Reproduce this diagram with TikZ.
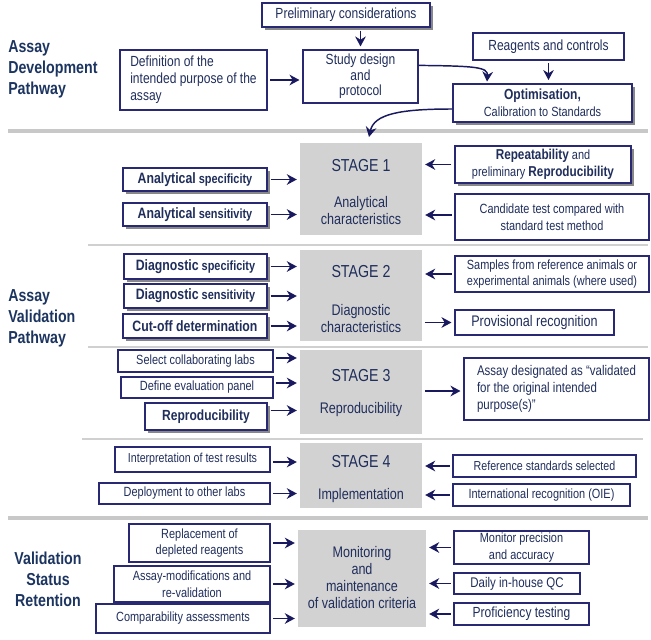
\documentclass[tikz,border=0pt]{standalone}
\usepackage{fontspec}
\setmainfont{Liberation Sans}[FakeStretch=0.82]
\usetikzlibrary{arrows.meta,shadows,calc}
\definecolor{bordercol}{RGB}{40,40,115}
\definecolor{textcol}{RGB}{32,46,92}
\definecolor{titlecol}{RGB}{28,52,96}
\definecolor{arrowcol}{RGB}{25,25,95}
\definecolor{stagegray}{RGB}{210,210,210}
\definecolor{sepgray}{RGB}{200,200,200}
\definecolor{sepgrayl}{RGB}{208,208,208}
\newcommand\szT{\fontsize{13}{15.75}\selectfont}
\newcommand\szL{\fontsize{11}{12.75}\selectfont}
\newcommand\szM{\fontsize{10.5}{12.75}\selectfont}
\newcommand\szS{\fontsize{10}{12.5}\selectfont}
\newcommand\szG{\fontsize{11.5}{12.75}\selectfont}
\newcommand\szH{\fontsize{13}{15}\selectfont}
\newcommand\szB{\fontsize{11.25}{13}\selectfont\bfseries}
\begin{document}
\begin{tikzpicture}[x=0.75pt,y=-0.75pt,
  bw/.style={minimum width=#1*0.75pt},
  bh/.style={minimum height=#1*0.75pt},
  lbox/.style={draw=bordercol, fill=white, text=textcol, align=center, inner sep=1pt, line width=0.9pt, font=\szS},
  hbox/.style={lbox, line width=1.6pt, drop shadow={shadow xshift=2.2pt, shadow yshift=-2.2pt, fill=black!55, opacity=0.85}},
  stagebox/.style={fill=stagegray, draw=none, inner sep=0pt},
  stagetxt/.style={text=textcol, align=center, inner sep=0pt, font=\szG},
  title/.style={text=titlecol, font=\szT\bfseries, inner sep=0pt},
  arr/.style={draw=arrowcol, line width=1.1pt, -{Stealth[length=7.5pt,width=8pt]}, shorten <=2pt, shorten >=2.2pt},
  septhick/.style={draw=sepgray, line width=3.6pt},
  septhin/.style={draw=sepgrayl, line width=1.6pt}
]
\useasboundingbox (0,0) rectangle (651,640);

% separators
\draw[septhick] (8,131) -- (648,131);
\draw[septhin] (88,245) -- (648,245);
\draw[septhin] (88,347) -- (648,347);
\draw[septhin] (82,439) -- (643,439);
\draw[septhick] (8,518) -- (648,518);

% titles
\node[title, align=left, anchor=west] (t1) at (8,69) {Assay\\Development\\Pathway};
\node[title, align=left, anchor=west] (t2) at (8,318) {Assay\\Validation\\Pathway};
\node[title, align=center] (t3) at (48,579) {Validation\\Status\\Retention};

% development pathway
\node[hbox,bw=168,bh=24,font=\szL] (prelim) at (346,15) {Preliminary considerations};
\node[lbox,bw=147,bh=60,align=left,font=\szL] (def) at (193.5,80) {Definition of the\\intended purpose of the\\assay};
\node[lbox,bw=115,bh=53,font=\fontsize{11}{11.7}\selectfont] (study) at (360.5,76.5) {Study design\\and\\protocol};
\node[lbox,bw=151,bh=27,font=\szL] (reag) at (548.5,46.5) {Reagents and controls};
\node[hbox,bw=179,bh=38,font=\szS] (optim) at (542.5,103) {{\fontsize{11}{13}\selectfont\bfseries Optimisation,}\\Calibration to Standards};

\draw[arr] (def.east) -- (def.east -| study.west);
\draw[arr] (prelim.south -| study.north) -- (study.north);
\draw[arr] (reag.south) -- (reag.south |- optim.north);
\coordinate (optTop) at ($(optim.north west)+(35,0)$);
\draw[arr, shorten <=0pt, shorten >=1pt] ($(study.north east)+(0,16)$) .. controls (475,66) and (488,67) .. (optTop);
\coordinate (vTop) at (369,137);
\draw[arr, shorten <=0pt, shorten >=0pt] ($(optim.west)+(0,6)$) .. controls (400,109) and (374,114) .. (vTop);

% stage 1
\node[stagebox,bw=122,bh=92] (s1) at (361,189) {};
\node[stagetxt,font=\szH] (s1a) at (361,166) {STAGE 1};
\node[stagetxt] (s1b) at (361,210.5) {Analytical\\characteristics};
\node[hbox,bw=144,bh=23] (as1) at (195,179.5) {{\szB Analytical} {\bfseries specificity}};
\node[hbox,bw=144,bh=23] (as2) at (195,214.5) {{\szB Analytical} {\bfseries sensitivity}};
\node[hbox,bw=176,bh=37] (rep) at (543,164.5) {{\fontsize{10.75}{12.5}\selectfont\bfseries Repeatability} and\\preliminary {\fontsize{10.75}{12.5}\selectfont\bfseries Reproducibility}};
\node[lbox,bw=194,bh=46] (cand) at (552,217) {Candidate test compared with\\standard test method};
\draw[arr] (as1.east) -- (as1.east -| s1.west);
\draw[arr] (as2.east) -- (as2.east -| s1.west);
\draw[arr] (rep.west) -- (rep.west -| s1.east);
\draw[arr] ($(cand.west)+(0,-2)$) -- ($(cand.west -| s1.east)+(0,-2)$);

% stage 2
\node[stagebox,bw=122,bh=91] (s2) at (361,295.5) {};
\node[stagetxt,font=\szH] (s2a) at (361,272) {STAGE 2};
\node[stagetxt] (s2b) at (361,318.5) {Diagnostic\\characteristics};
\node[hbox,bw=143,bh=25] (ds1) at (195.5,266.5) {{\szB Diagnostic} {\bfseries specificity}};
\node[hbox,bw=143,bh=24] (ds2) at (195.5,296) {{\szB Diagnostic} {\bfseries sensitivity}};
\node[hbox,bw=144,bh=24,font=\szB] (cut) at (195,326) {Cut-off determination};
\node[lbox,bw=194,bh=36] (samp) at (552,274) {Samples from reference animals or\\experimental animals (where used)};
\node[lbox,bw=159,bh=25,font=\fontsize{11.5}{13}\selectfont] (prov) at (534.5,322.5) {Provisional recognition};
\draw[arr] (ds1.east) -- (ds1.east -| s2.west);
\draw[arr] (ds2.east) -- (ds2.east -| s2.west);
\draw[arr] (cut.east) -- (cut.east -| s2.west);
\draw[arr] (samp.west) -- (samp.west -| s2.east);
\draw[arr] (prov.west -| s2.east) -- (prov.west);

% stage 3
\node[stagebox,bw=122,bh=84] (s3) at (361,392) {};
\node[stagetxt,font=\szH] (s3a) at (361,376) {STAGE 3};
\node[stagetxt] (s3b) at (361,410) {Reproducibility};
\node[lbox,bw=155,bh=22] (sel) at (195.5,361) {Select collaborating labs};
\node[lbox,bw=152,bh=21] (defp) at (197,387.5) {Define evaluation panel};
\node[hbox,bw=122,bh=27,font=\fontsize{11}{13}\selectfont\bfseries] (repro) at (206,416.5) {Reproducibility};
\node[lbox,bw=185,bh=62,align=left,font=\szM] (assay) at (556.5,389) {Assay designated as “validated\\for the original intended\\purpose(s)”};
\draw[arr] ($(sel.east)+(0,-3)$) -- ($(sel.east -| s3.west)+(0,-3)$);
\draw[arr] ($(defp.east)+(0,-4.5)$) -- ($(defp.east -| s3.west)+(0,-4.5)$);
\draw[arr] ($(repro.east)+(0,-6)$) -- ($(repro.east -| s3.west)+(0,-6)$);
\draw[arr] ($(assay.west -| s3.east)+(0,2)$) -- ($(assay.west)+(0,2)$);

% stage 4
\node[stagebox,bw=122,bh=65] (s4) at (361,475.5) {};
\node[stagetxt,font=\szH] (s4a) at (361,462) {STAGE 4};
\node[stagetxt] (s4b) at (361,496) {Implementation};
\node[lbox,bw=155,bh=25,font=\fontsize{9.75}{12}\selectfont] (interp) at (192.5,459.5) {Interpretation of test results};
\node[lbox,bw=171,bh=21] (deploy) at (184.5,493.5) {Deployment to other labs};
\node[lbox,bw=183,bh=22,font=\fontsize{9.75}{12}\selectfont] (refstd) at (544.5,466) {Reference standards selected};
\node[lbox,bw=177,bh=22] (intl) at (541.5,495) {International recognition (OIE)};
\draw[arr] ($(interp.east)+(0,2.5)$) -- ($(interp.east -| s4.west)+(0,2.5)$);
\draw[arr] (deploy.east) -- (deploy.east -| s4.west);
\draw[arr] (refstd.west) -- (refstd.west -| s4.east);
\draw[arr] (intl.west) -- (intl.west -| s4.east);

% retention
\node[stagebox,bw=128,bh=97] (mon) at (362,578.5) {};
\node[stagetxt] (monT) at (362,578) {Monitoring\\and\\maintenance\\of validation criteria};
\node[lbox,bw=141,bh=38] (repl) at (199.5,543) {Replacement of\\depleted reagents};
\node[lbox,bw=156,bh=36] (mod) at (192,584) {Assay-modifications and\\re-validation};
\node[lbox,bw=174,bh=29] (comp) at (183,618.5) {Comparability assessments};
\node[lbox,bw=135,bh=33] (monp) at (521.5,547.5) {Monitor precision\\and accuracy};
\node[lbox,bw=126,bh=21,font=\szM] (daily) at (517,583.5) {Daily in-house QC};
\node[lbox,bw=135,bh=22,font=\fontsize{11}{13}\selectfont] (prof) at (521.5,614) {Proficiency testing};
\draw[arr] (repl.east) -- (repl.east -| mon.west);
\draw[arr] (mod.east) -- (mod.east -| mon.west);
\draw[arr] (comp.east) -- (comp.east -| mon.west);
\draw[arr] (monp.west) -- (monp.west -| mon.east);
\draw[arr] (daily.west) -- (daily.west -| mon.east);
\draw[arr] (prof.west) -- (prof.west -| mon.east);
\end{tikzpicture}
\end{document}
